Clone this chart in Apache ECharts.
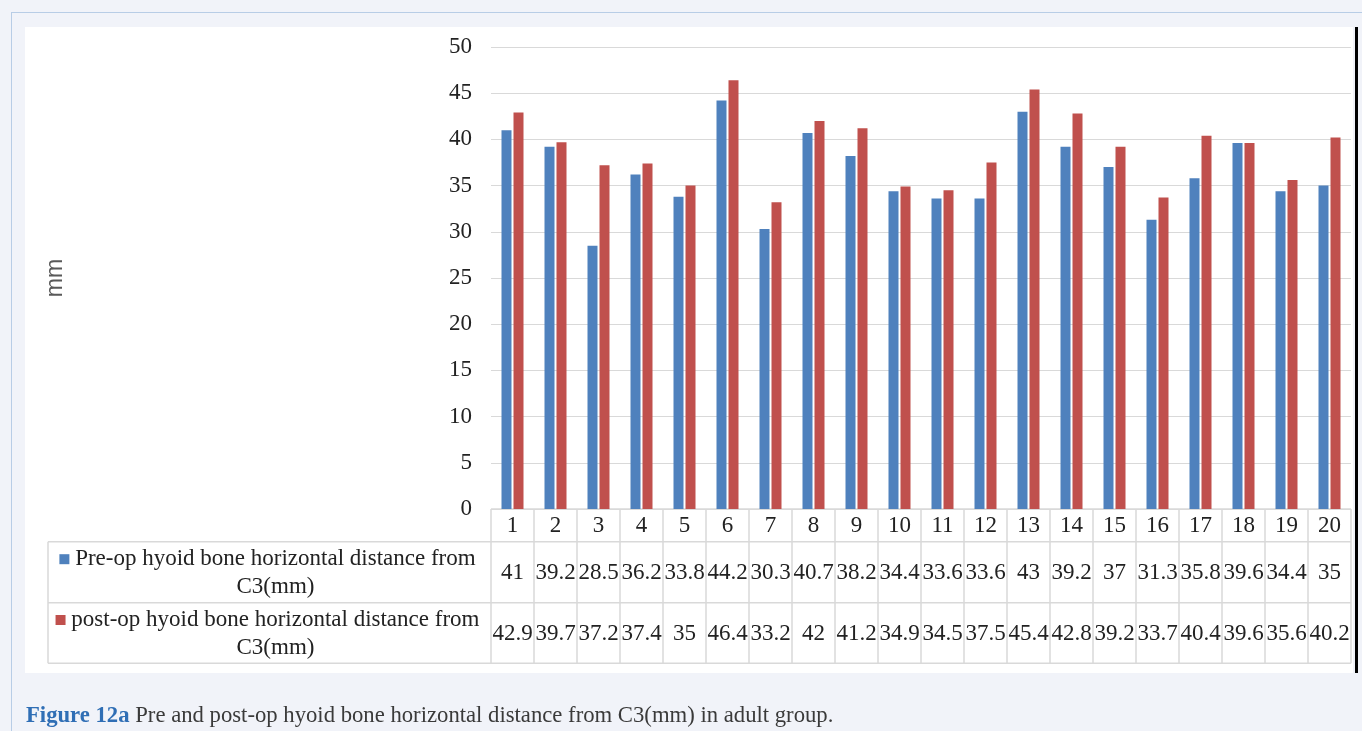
<!DOCTYPE html>
<html>
<head>
<meta charset="utf-8">
<script src="https://cdn.jsdelivr.net/npm/echarts@6/dist/echarts.min.js"></script>
<style>
html,body{margin:0;padding:0;background:#f1f3f9;}
#frame{position:absolute;left:11px;top:12px;width:1351px;height:719px;border-left:1px solid #b8cde6;border-top:1px solid #b8cde6;box-sizing:border-box;}
#panel{position:absolute;left:25px;top:27px;width:1328px;height:646px;background:#ffffff;}
#rule{position:absolute;left:1355px;top:27px;width:3px;height:646px;background:#000;}
#chart{position:absolute;left:0;top:0;width:1362px;height:731px;}
</style>
</head>
<body>
<div id="frame"></div>
<div id="panel"></div>
<div id="rule"></div>
<div id="chart"></div>
<script>
const categories = ['1','2','3','4','5','6','7','8','9','10','11','12','13','14','15','16','17','18','19','20'];
const preOp = [41,39.2,28.5,36.2,33.8,44.2,30.3,40.7,38.2,34.4,33.6,33.6,43,39.2,37,31.3,35.8,39.6,34.4,35];
const postOp = [42.9,39.7,37.2,37.4,35,46.4,33.2,42,41.2,34.9,34.5,37.5,45.4,42.8,39.2,33.7,40.4,39.6,35.6,40.2];
const seriesNames = ['Pre-op hyoid bone horizontal distance from', 'post-op hyoid bone horizontal distance from'];
const seriesUnit = 'C3(mm)';
const yTicks = [0,5,10,15,20,25,30,35,40,45,50];
const yTitle = 'mm';
const captionBold = 'Figure 12a';
const captionRest = ' Pre and post-op hyoid bone horizontal distance from C3(mm) in adult group.';

const BLUE = '#4f81bd', RED = '#c0504d', LINE = '#d9d9d9';
const FONT = 'Liberation Serif';
const FS = 23;
const G = {left: 491, right: 11, top: 47, bottom: 222};

const chart = echarts.init(document.getElementById('chart'), null, {renderer:'canvas'});
chart.setOption({
  backgroundColor: 'transparent',
  animation: false,
  grid: {left: G.left, right: G.right, top: G.top, bottom: G.bottom, containLabel: false},
  xAxis: {
    type: 'category', data: categories,
    axisLine: {show:false}, axisTick: {show:false}, axisLabel: {show:false}
  },
  yAxis: {
    type: 'value', min: yTicks[0], max: yTicks[yTicks.length-1], interval: yTicks[1]-yTicks[0],
    axisLine: {show:false}, axisTick: {show:false},
    axisLabel: {fontFamily: FONT, fontSize: FS, color: '#222', margin: 19},
    splitLine: {lineStyle: {color: LINE, width: 1}}
  },
  series: [
    {name: seriesNames[0], type:'bar', data: preOp, barWidth: 10, barGap: '20%', itemStyle:{color: BLUE}},
    {name: seriesNames[1], type:'bar', data: postOp, barWidth: 10, barGap: '20%', itemStyle:{color: RED}}
  ]
});

// data table below the plot, positioned from the axis scale
const x0 = chart.convertToPixel({xAxisIndex:0}, 0);
const x1 = chart.convertToPixel({xAxisIndex:0}, 1);
const band = x1 - x0;
const yZero = chart.convertToPixel({yAxisIndex:0}, 0);
const rowY = [yZero, yZero + 32.7, yZero + 93.7, yZero + 154.3];
const tableLeft = 48;
const colLeft = x0 - band/2;
const colRight = colLeft + band*categories.length;
const els = [];
function hline(a, b, y){ els.push({type:'line', shape:{x1:a, y1:y, x2:b, y2:y}, style:{stroke:LINE, lineWidth:1.5}, silent:true}); }
function vline(x, a, b){ els.push({type:'line', shape:{x1:x, y1:a, x2:x, y2:b}, style:{stroke:LINE, lineWidth:1.5}, silent:true}); }
hline(colLeft, colRight, rowY[0]);
hline(tableLeft, colRight, rowY[1]);
hline(tableLeft, colRight, rowY[2]);
hline(tableLeft, colRight, rowY[3]);
vline(tableLeft, rowY[1], rowY[3]);
for (let i=0;i<=categories.length;i++) vline(colLeft + i*band, rowY[0], rowY[3]);
function txt(x, y, s){
  els.push({type:'text', x:x, y:y, silent:true,
    style:{text:s, fontFamily:FONT, fontSize:FS, fill:'#222', align:'center', verticalAlign:'middle'}});
}
categories.forEach((c,i)=>{
  const cx = chart.convertToPixel({xAxisIndex:0}, i);
  txt(cx, (rowY[0]+rowY[1])/2 + 1, c);
  txt(cx, (rowY[1]+rowY[2])/2 + 1, String(preOp[i]));
  txt(cx, (rowY[2]+rowY[3])/2 + 1, String(postOp[i]));
});
const labelCx = (tableLeft + colLeft)/2;
[[seriesNames[0], BLUE, 1], [seriesNames[1], RED, 2]].forEach(([name, col, r])=>{
  const mid = (rowY[r]+rowY[r+1])/2;
  els.push({type:'text', x: labelCx - 2, y: mid - 13, silent:true, style:{
    text: '{sq|}{t| ' + name + '}', align:'center', verticalAlign:'middle',
    rich: {sq:{width:10, height:10, backgroundColor: col}, t:{fontFamily:FONT, fontSize:FS, fill:'#222'}}
  }});
  txt(labelCx + 6, mid + 15, seriesUnit);
});
// y axis title
els.push({type:'text', x:56, y:278, rotation: Math.PI/2, silent:true,
  style:{text: yTitle, fontFamily:'Liberation Sans', fontSize:23, fill:'#595959', align:'center', verticalAlign:'middle'}});
// caption
els.push({type:'text', x:26, y:716, silent:true, style:{
  text: '{b|' + captionBold + '}{r|' + captionRest + '}', align:'left', verticalAlign:'middle',
  rich: {b:{fontFamily:FONT, fontSize:22.7, fontWeight:'bold', fill:'#2f6eb5'}, r:{fontFamily:FONT, fontSize:22.7, fill:'#3a3a3a'}}
}});
chart.setOption({graphic: {elements: els}});
</script>
</body>
</html>
